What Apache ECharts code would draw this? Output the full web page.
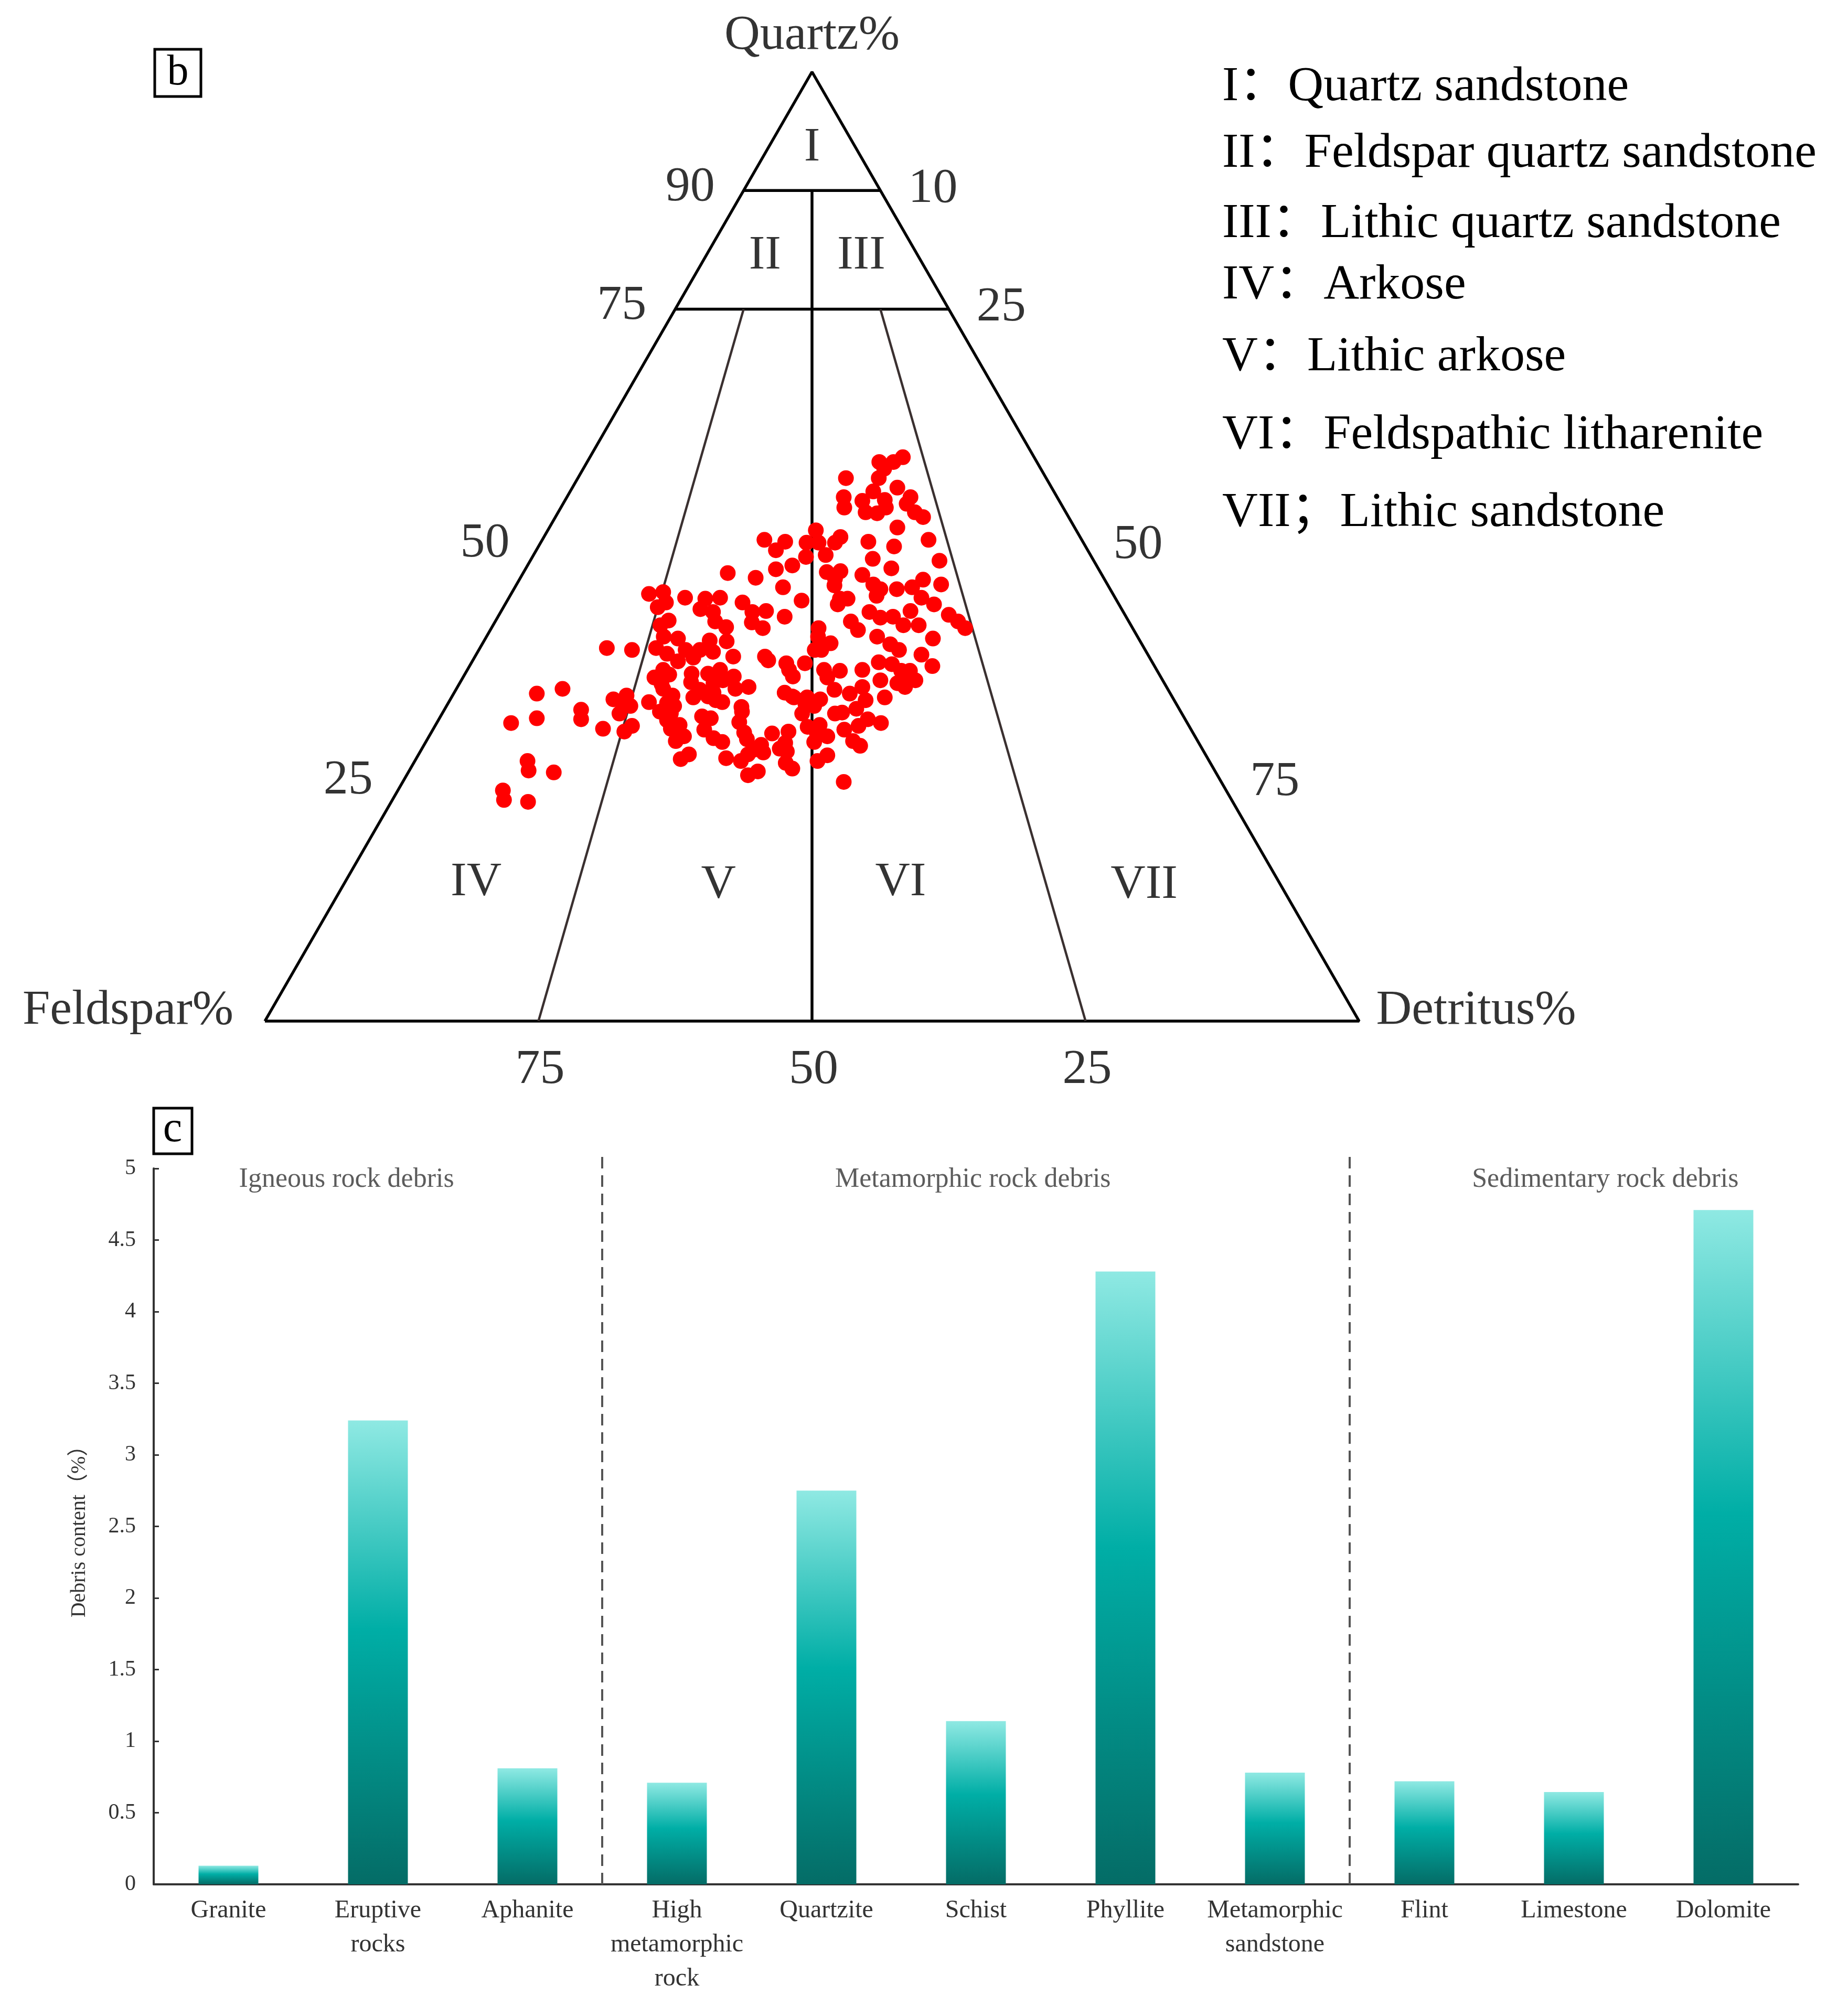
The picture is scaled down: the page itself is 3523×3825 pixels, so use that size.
<!DOCTYPE html>
<html>
<head>
<meta charset="utf-8">
<title>Sandstone classification and debris content</title>
<script src="https://cdn.jsdelivr.net/npm/echarts/dist/echarts.min.js"></script>
<style>
    html, body { margin: 0; padding: 0; background: #fff; }
    #main { width: 3523px; height: 3825px; }
</style>
</head>
<body>
<div id="main"></div>
<script>
// panel b - sample compositions (Quartz %, Detritus %), feldspar is the rest
var quartz = [
    59.4, 58.9, 58.9, 58.2, 57.2, 57.2, 56.2, 55.8, 55.2, 55.2, 54.8, 54.9, 54.1, 53.6, 53.5, 54.1, 54.5, 53.6, 53.1, 52.0,
    51.7, 50.7, 50.5, 50.4, 51.0, 50.4, 50.5, 50.7, 50.4, 50.0, 49.6, 49.1, 48.9, 48.7, 48.5, 48.0, 47.6, 47.7, 47.2, 46.7,
    47.3, 47.4, 47.0, 46.6, 46.5, 46.0, 46.0, 45.7, 45.9, 45.5, 45.5, 45.7, 45.0, 45.2, 44.6, 44.5, 44.6, 44.3, 44.5, 44.5,
    44.8, 44.6, 44.1, 43.6, 44.1, 43.9, 43.9, 43.4, 43.1, 43.1, 43.2, 43.1, 42.5, 42.6, 43.2, 42.8, 42.2, 41.7, 42.1, 41.5,
    42.0, 41.4, 42.6, 41.4, 42.1, 41.2, 41.7, 41.7, 42.1, 41.4, 40.5, 40.3, 40.1, 40.0, 40.5, 39.8, 40.5, 40.3, 39.7, 39.3,
    39.1, 39.3, 38.7, 39.1, 39.1, 38.9, 38.4, 39.1, 39.1, 39.1, 38.6, 37.9, 38.3, 38.4, 38.0, 37.7, 37.7, 37.8, 37.6, 37.4,
    37.0, 37.0, 37.0, 37.0, 36.9, 37.0, 36.9, 36.9, 36.2, 36.5, 36.6, 36.6, 36.3, 36.3, 36.2, 36.3, 35.9, 35.5, 35.7, 35.6,
    35.9, 35.6, 35.9, 35.0, 34.5, 35.2, 34.9, 34.6, 35.0, 34.9, 35.2, 35.2, 34.3, 34.3, 35.0, 34.2, 34.6, 34.2, 34.5, 34.1,
    33.9, 33.6, 34.1, 33.8, 34.1, 34.1, 33.9, 33.8, 32.8, 33.5, 33.2, 33.5, 33.2, 33.6, 33.1, 33.4, 33.2, 32.9, 32.4, 32.6,
    32.4, 32.6, 32.4, 32.4, 32.5, 31.4, 31.9, 31.8, 30.8, 31.1, 30.5, 31.7, 32.1, 31.9, 31.5, 31.8, 31.4, 31.1, 31.2, 30.8,
    30.7, 30.5, 31.0, 31.2, 30.7, 30.0, 29.8, 30.4, 30.3, 30.3, 30.0, 29.5, 29.4, 29.7, 29.1, 29.3, 29.5, 29.4, 28.6, 28.7,
    28.4, 29.0, 28.1, 27.6, 27.7, 27.4, 28.1, 28.3, 27.4, 28.0, 27.4, 26.4, 26.2, 27.2, 26.6, 26.3, 25.9, 25.2, 24.3, 23.3, 23.1
];
var detritus = [
    28.6, 28.0, 26.7, 27.5, 24.5, 27.5, 29.7, 27.7, 25.3, 31.4, 27.2, 29.2, 25.9, 28.1, 29.2, 29.7, 31.4, 32.6, 33.6, 31.8,
    24.5, 20.3, 22.3, 24.3, 27.1, 26.9, 29.9, 35.3, 25.4, 32.5, 21.9, 26.7, 25.0, 31.2, 37.4, 24.2, 22.9, 33.4, 18.7, 21.5,
    27.7, 28.9, 31.1, 28.8, 36.9, 38.8, 32.6, 24.5, 29.1, 33.5, 35.0, 36.3, 12.6, 13.8, 16.1, 18.0, 19.3, 26.9, 30.3, 31.0,
    33.5, 37.7, 14.6, 14.1, 21.6, 30.4, 39.2, 18.1, 19.4, 23.0, 24.2, 33.7, 35.0, 36.1, 37.4, 41.1, 15.8, 15.3, 20.1, 21.4,
    23.5, 24.8, 26.2, 29.9, 32.5, 33.6, 37.5, 38.9, 42.3, 43.3, 16.2, 17.6, 20.6, 22.2, 30.3, 31.8, 35.7, 40.9, 37.3, 11.6,
    14.0, 16.1, 17.4, 18.9, 20.2, 21.5, 23.6, 30.7, 31.3, 38.4, 40.7, 18.8, 20.0, 26.5, 27.0, 28.8, 30.5, 37.2, 38.5, 42.3,
    17.9, 23.1, 29.4, 32.6, 34.1, 36.1, 39.7, 40.5, 17.5, 18.7, 20.7, 22.2, 24.7, 30.1, 33.3, 40.5, 38.3, 18.5, 21.1, 23.2,
    23.9, 40.0, 41.5, 9.7, 7.6, 26.6, 22.3, 23.7, 25.5, 34.6, 37.0, 40.9, 15.9, 20.1, 18.9, 23.4, 30.2, 31.1, 36.2, 39.6,
    14.9, 18.3, 22.1, 24.3, 31.3, 32.5, 33.8, 38.0, 12.5, 16.0, 16.8, 20.0, 20.8, 25.0, 27.0, 32.7, 33.6, 37.6, 16.2, 19.8,
    20.9, 27.3, 32.9, 35.9, 36.5, 6.8, 8.9, 13.0, 15.5, 18.0, 17.6, 20.9, 23.9, 24.8, 27.6, 39.2, 40.6, 38.7, 22.3, 21.7,
    24.8, 32.6, 34.1, 35.1, 37.6, 23.3, 26.1, 28.6, 31.2, 35.3, 36.4, 22.8, 27.1, 29.2, 30.8, 32.9, 39.0, 35.5, 30.4, 32.7,
    33.5, 39.9, 24.7, 24.2, 28.3, 29.8, 30.1, 31.4, 36.8, 37.4, 10.3, 10.9, 13.3, 34.0, 34.9, 31.9, 31.2, 40.3, 9.6, 10.2, 12.5
];

// field boundaries (quartz % levels and detritus share of F+R)
var quartzBounds = [87.5, 75];
var ratioLines = [[0.5, 87.5], [0.25, 75], [0.75, 75]];   // [R/(F+R), top quartz]
var leftTickLabels = ['90', '75', '50', '25'];
var rightTickLabels = ['10', '25', '50', '75'];
var tickQuartz = [87.5, 75, 50, 25];
var bottomTickLabels = ['75', '50', '25'];
var bottomTickDetritus = [25, 50, 75];
var regionNames = ['I', 'II', 'III', 'IV', 'V', 'VI', 'VII'];
var regionDesc = [
    'I：Quartz sandstone',
    'II：Feldspar quartz sandstone',
    'III：Lithic quartz sandstone',
    'IV：Arkose',
    'V：Lithic arkose',
    'VI：Feldspathic litharenite',
    'VII；Lithic sandstone'
];

// panel c - debris content
var rockTypes = ['Granite', 'Eruptive\nrocks', 'Aphanite', 'High\nmetamorphic\nrock', 'Quartzite', 'Schist',
    'Phyllite', 'Metamorphic\nsandstone', 'Flint', 'Limestone', 'Dolomite'];
var debrisContent = [0.13, 3.24, 0.81, 0.71, 2.75, 1.14, 4.28, 0.78, 0.72, 0.645, 4.71];
var groupNames = ['Igneous rock debris', 'Metamorphic rock debris', 'Sedimentary rock debris'];
var groupBreaks = [3, 8];

var serif = '"Liberation Serif", "Noto Sans CJK SC", serif';

// ternary (q = quartz, r = detritus) -> plane of the equilateral triangle
function tern(q, r) {
    return [r + q / 2, q];
}

function textSeries(items, fontSize, offset, color, xi, yi) {
    return {
        type: 'scatter',
        xAxisIndex: xi || 0,
        yAxisIndex: yi || 0,
        symbolSize: 1,
        itemStyle: { color: 'rgba(0,0,0,0)' },
        silent: true,
        z: 5,
        label: {
            show: true,
            position: 'inside',
            offset: offset,
            formatter: '{b}',
            fontSize: fontSize,
            fontFamily: serif,
            color: color || '#000'
        },
        data: items
    };
}

function lineSeries(points, color, width, dash, xi, yi) {
    return {
        type: 'line',
        xAxisIndex: xi || 0,
        yAxisIndex: yi || 0,
        data: points,
        symbol: 'none',
        clip: false,
        silent: true,
        lineStyle: { color: color, width: width, type: dash || 'solid' },
        z: 2
    };
}

var myChart = echarts.init(document.getElementById('main'));

var series = [];
// triangle outline
series.push(lineSeries([tern(0, 0), tern(100, 0), tern(0, 100), tern(0, 0)], '#000', 5.5));
quartzBounds.forEach(function (q) {
    series.push(lineSeries([tern(q, 0), tern(q, 100 - q)], '#000', 5.5));
});
ratioLines.forEach(function (l) {
    var t = l[0], top = l[1];
    var col = t === 0.5 ? '#000' : '#3a3030';
    series.push(lineSeries([tern(top, (100 - top) * t), tern(0, 100 * t)], col, t === 0.5 ? 5.5 : 4.5));
});

// samples
series.push({
    type: 'scatter',
    symbolSize: 30,
    itemStyle: { color: '#ff0000', opacity: 1 },
    z: 4,
    data: quartz.map(function (q, i) { return tern(q, detritus[i]); })
});

// tick labels
series.push(textSeries(leftTickLabels.map(function (s, i) {
    return { name: s, value: tern(tickQuartz[i], 0) };
}), 94, [-102, -6]));
series.push(textSeries(rightTickLabels.map(function (s, i) {
    return { name: s, value: tern(tickQuartz[i], 100 - tickQuartz[i]) };
}), 94, [100, -3]));
series.push(textSeries(bottomTickLabels.map(function (s, i) {
    return { name: s, value: tern(0, bottomTickDetritus[i]) };
}), 94, [3, 93]));

// vertex titles
series.push(textSeries([{ name: 'Quartz%', value: tern(100, 0) }], 94, [0, -69]));
series.push(textSeries([{ name: 'Feldspar%', value: tern(0, 0) }], 94, [-261, -20]));
series.push(textSeries([{ name: 'Detritus%', value: tern(0, 100) }], 94, [223, -20]));

// field names
var regionAt = [[92, 4], [80.6, 5.4], [80.6, 14.2], [14.6, 12], [14.3, 34.3], [14.6, 50.8], [14.3, 73.2]];
series.push(textSeries(regionNames.map(function (s, i) {
    return { name: s, value: tern(regionAt[i][0], regionAt[i][1]) };
}), 92, [0, 0]));

// bar chart
series.push({
    type: 'bar',
    xAxisIndex: 1,
    yAxisIndex: 1,
    barWidth: '40%',
    data: debrisContent,
    itemStyle: {
        color: new echarts.graphic.LinearGradient(0, 0, 0, 1, [
            { offset: 0, color: '#8fe9e3' },
            { offset: 0.45, color: '#00aea6' },
            { offset: 1, color: '#046c66' }
        ])
    }
});
groupBreaks.forEach(function (b) {
    series.push(lineSeries([[b, 0], [b, 5.11]], '#555', 4, [22, 13], 2, 1));
});
var groupAt = [1.29, 5.48, 9.71];
series.push(textSeries(groupNames.map(function (s, i) {
    return { name: s, value: [groupAt[i], 4.92] };
}), 52, [0, 0], '#333', 2, 1));

var option = {
    backgroundColor: '#fff',
    animation: false,
    grid: [
        { left: 505, top: 137, width: 2086, height: 1810 },
        { left: 293, top: 2228, width: 3135, height: 1365 }
    ],
    xAxis: [
        { gridIndex: 0, type: 'value', min: 0, max: 100, show: false },
        {
            gridIndex: 1,
            type: 'category',
            data: rockTypes,
            axisLine: { lineStyle: { color: '#333', width: 4 } },
            axisTick: { inside: true, length: 10, lineStyle: { color: '#333', width: 3 } },
            axisLabel: {
                interval: 0,
                margin: 18,
                fontSize: 48,
                lineHeight: 65,
                color: '#333',
                fontFamily: serif
            }
        },
        { gridIndex: 1, type: 'value', min: 0, max: 11, show: false }
    ],
    yAxis: [
        { gridIndex: 0, type: 'value', min: 0, max: 100, show: false },
        {
            gridIndex: 1,
            type: 'value',
            min: 0,
            max: 5,
            interval: 0.5,
            splitLine: { show: false },
            axisLine: { show: true, lineStyle: { color: '#333', width: 4 } },
            axisTick: { show: true, inside: true, length: 10, lineStyle: { color: '#333', width: 3 } },
            axisLabel: { margin: 34, fontSize: 42, color: '#333', fontFamily: serif },
            name: 'Debris content（%）',
            nameLocation: 'middle',
            nameGap: 122,
            nameRotate: 90,
            nameTextStyle: { fontSize: 40, color: '#333', fontFamily: serif }
        }
    ],
    graphic: [
        { type: 'rect', shape: { x: 295, y: 94, width: 88, height: 90 }, style: { fill: '#fff', stroke: '#000', lineWidth: 5 } },
        { type: 'text', x: 339, y: 139, style: { text: 'b', fontSize: 82, fontFamily: serif, fill: '#000', align: 'center', verticalAlign: 'middle' } },
        { type: 'rect', shape: { x: 293, y: 2113, width: 73, height: 87 }, style: { fill: '#fff', stroke: '#000', lineWidth: 5 } },
        { type: 'text', x: 329, y: 2154, style: { text: 'c', fontSize: 82, fontFamily: serif, fill: '#000', align: 'center', verticalAlign: 'middle' } }
    ].concat(regionDesc.map(function (s, i) {
        var ys = [166, 293, 427, 544, 681, 830, 978];
        return {
            type: 'text', x: 2330, y: ys[i],
            style: { text: s, fontSize: 94, fontFamily: serif, fill: '#000', align: 'left', verticalAlign: 'middle' }
        };
    })),
    series: series
};

myChart.setOption(option);
</script>
</body>
</html>
